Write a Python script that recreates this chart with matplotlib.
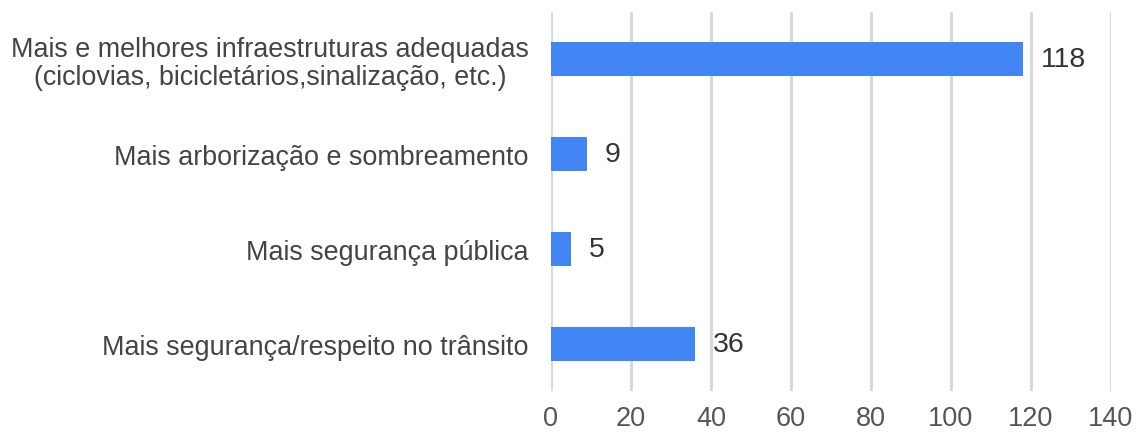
import matplotlib
matplotlib.use("Agg")
import matplotlib.pyplot as plt

categories = [
    "Mais e melhores infraestruturas adequadas\n(ciclovias, bicicletários,sinalização, etc.)",
    "Mais arborização e sombreamento",
    "Mais segurança pública",
    "Mais segurança/respeito no trânsito",
]
values = [118, 9, 5, 36]
xticks = [0, 20, 40, 60, 80, 100, 120, 140]

plt.rcParams['font.family'] = ['Liberation Sans', 'DejaVu Sans']

fig = plt.figure(figsize=(11.39, 4.35), dpi=100)
ax = fig.add_axes([551/1139, 1-392/435, (1111-551)/1139, (392-13)/435])

y = list(range(len(categories)))
ax.barh(y, values, height=0.36, color="#4285F4", zorder=3)
for yi, v in zip(y, values):
    ax.text(v + 4.5, yi, str(v), va="center", ha="left", fontsize=20.5, color="#333333")

ax.set_xlim(0, 140)
ax.set_ylim(3.5, -0.5)
ax.set_xticks(xticks)
ax.set_xticklabels([str(t) for t in xticks], fontsize=19.5, color="#555555")
ax.set_yticks(y)
ax.set_yticklabels(categories, fontsize=19.4, color="#444444", linespacing=1.1,
                   multialignment="center")
ax.tick_params(axis="both", length=0)
ax.tick_params(axis="x", pad=10)
ax.tick_params(axis="y", pad=16)
ax.grid(axis="x", color="#d9d9d9", linewidth=2.2, zorder=0)
for s in ax.spines.values():
    s.set_visible(False)

fig.savefig("out.png", dpi=100)
